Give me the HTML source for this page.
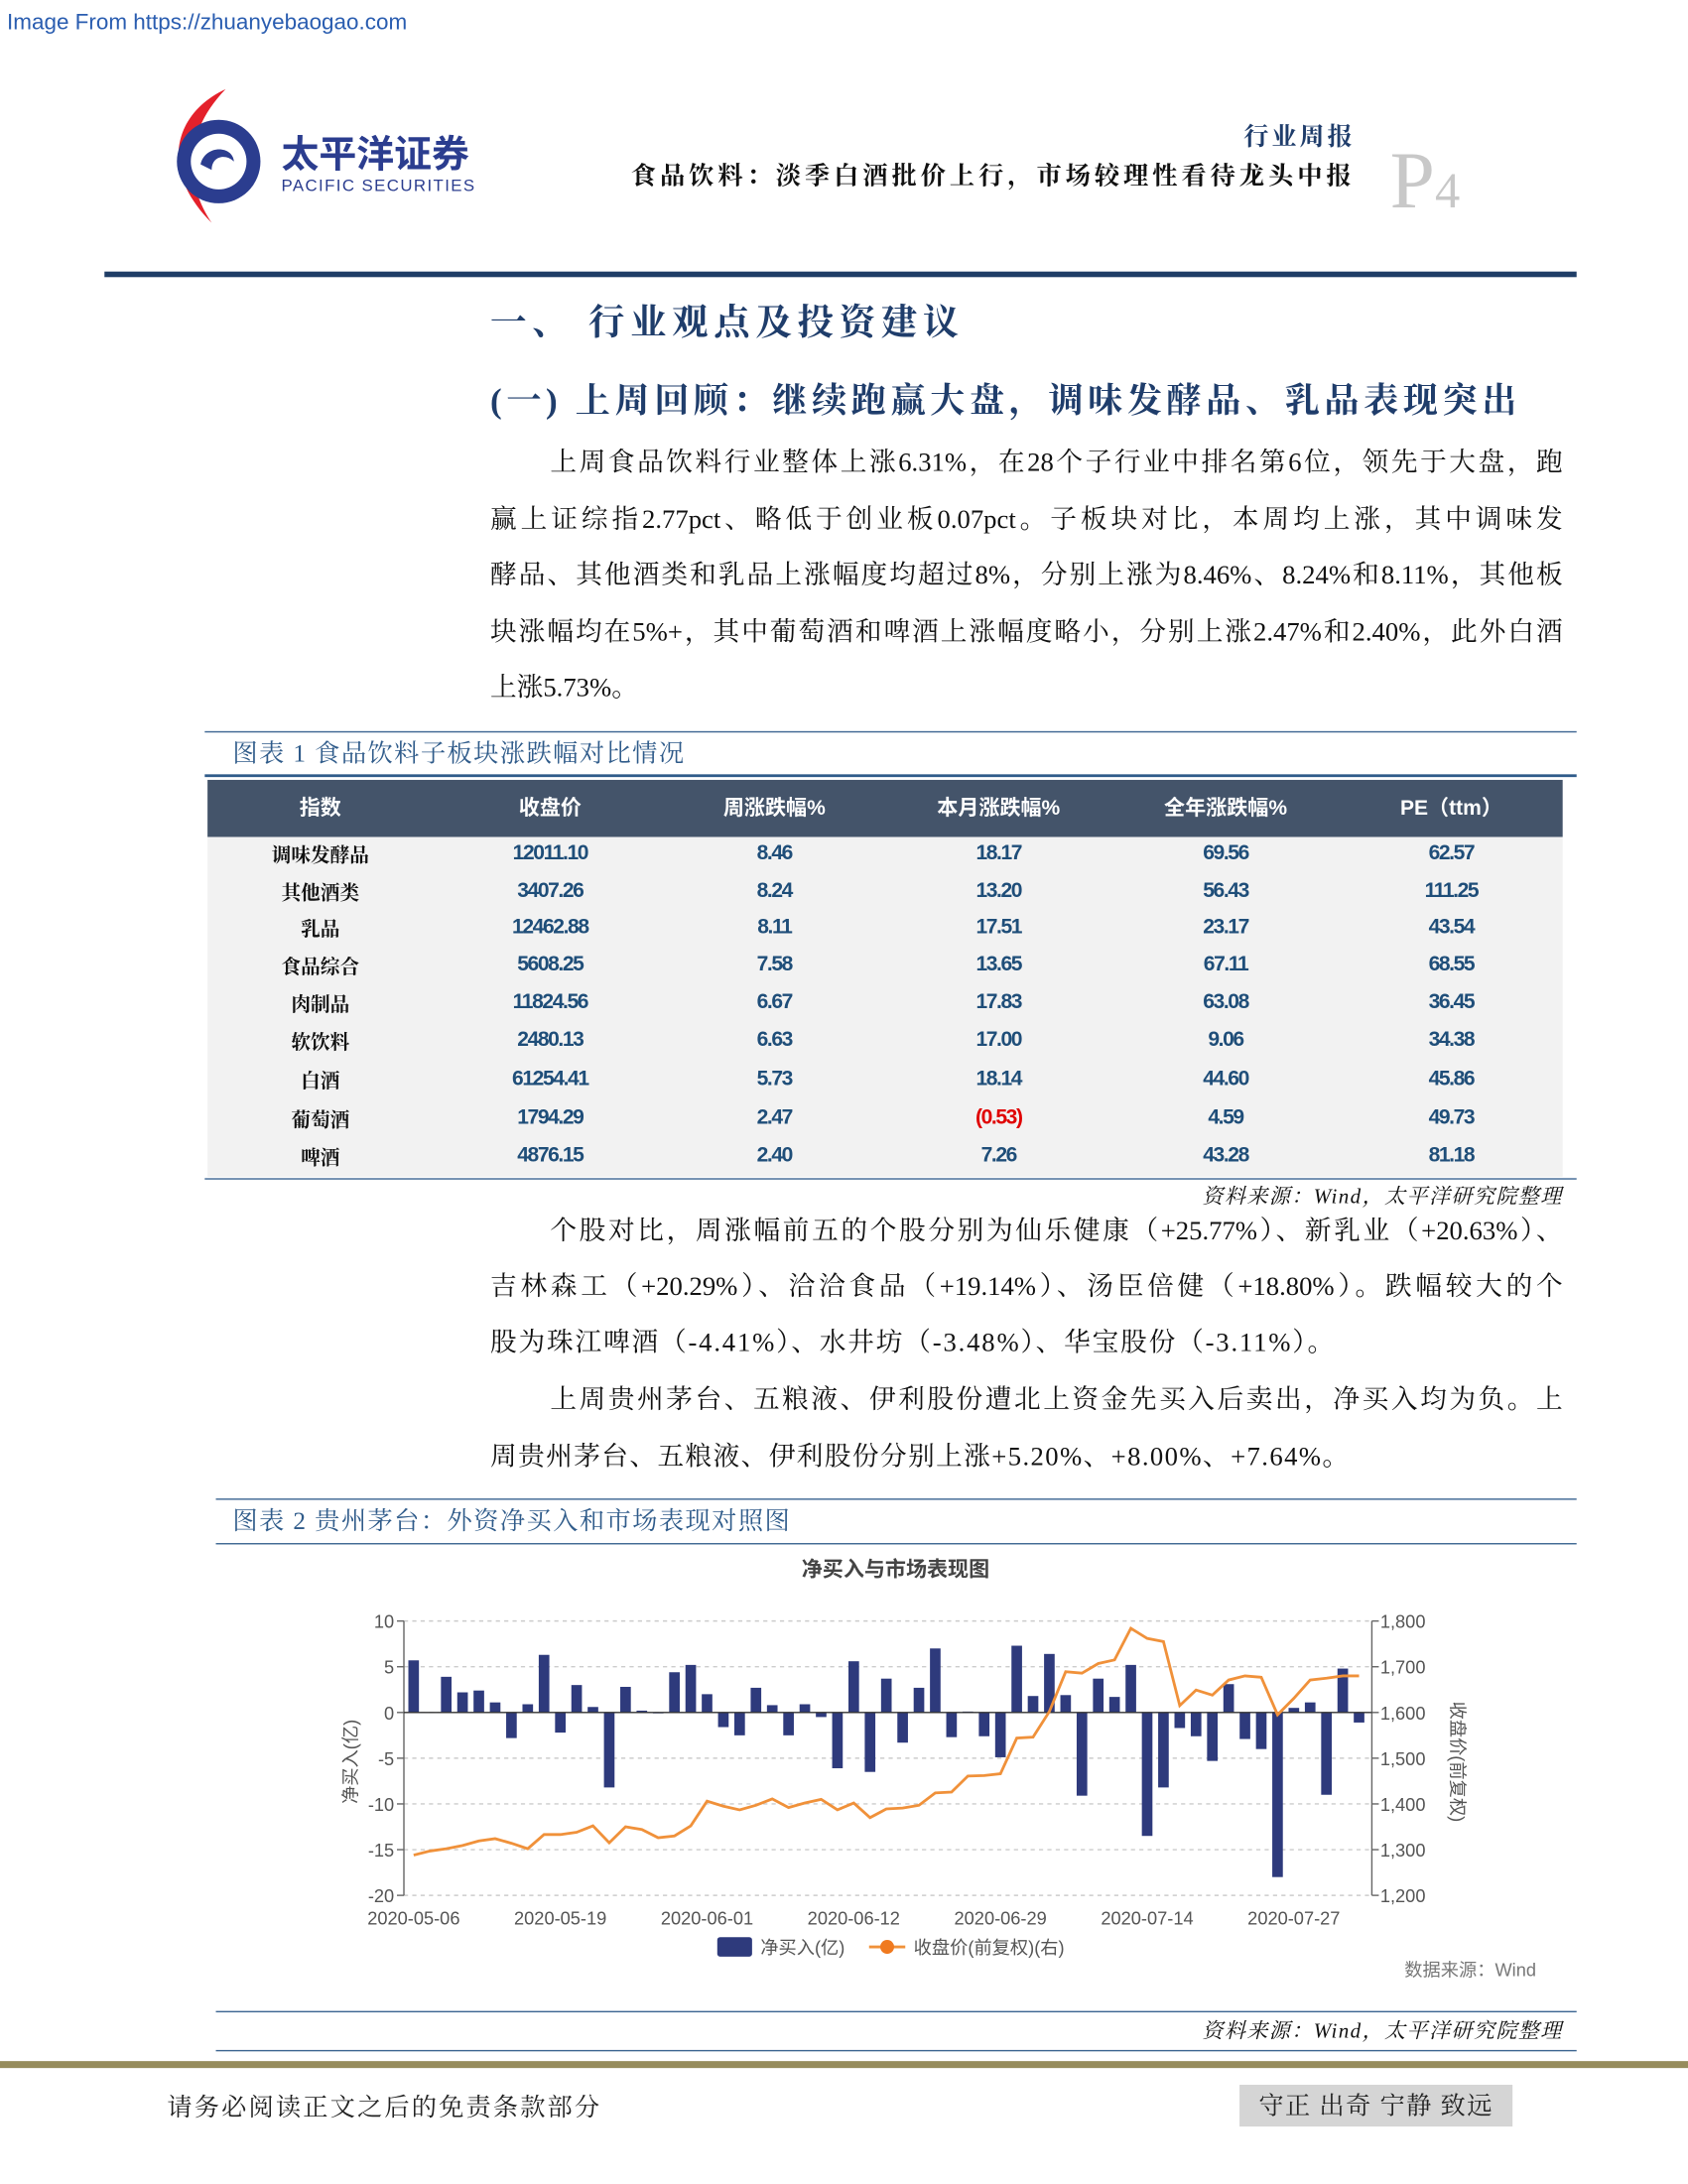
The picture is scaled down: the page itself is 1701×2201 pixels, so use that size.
<!DOCTYPE html>
<html><head><meta charset="utf-8">
<style>
html,body{margin:0;padding:0;background:#fff;width:1701px;height:2201px;overflow:hidden}
#pg{position:absolute;left:0;top:0;width:1212px;height:1568px;transform:scale(1.40347);transform-origin:0 0;font-family:"Liberation Serif","Noto Serif CJK SC",serif;color:#111}
.a{position:absolute;white-space:nowrap}
.ln{position:absolute;font-size:19px;line-height:24px;text-align:justify;text-align-last:justify;white-space:nowrap;color:#111}
.hl{position:absolute;height:1px;background:#3c6591}
.cap{position:absolute;font-size:18px;color:#2f5b8a;letter-spacing:1px}
.th{position:absolute;top:560px;height:41px;line-height:41px;color:#fff;font-size:15px;font-weight:bold;font-family:"Liberation Sans","Noto Sans CJK SC",sans-serif;text-align:center;width:150px}
.td{position:absolute;width:150px;text-align:center;font-size:15px;font-weight:bold;color:#1f4e79;font-family:"Liberation Sans Narrow","Liberation Sans",sans-serif;letter-spacing:-1px}
.tn{position:absolute;width:150px;text-align:center;font-size:14px;font-weight:bold;color:#111}
</style></head><body>
<div id="pg">
<div class="a" style="left:5px;top:8px;font-size:16px;color:#2a5db0;font-family:'Liberation Sans',sans-serif">Image From https://zhuanyebaogao.com</div>
<svg class="a" style="left:112px;top:60px" width="240" height="102">
<path d="M50 4 C15 20 0 60 40 100 C20 70 20 35 50 4Z" fill="#e4212b"/>
<circle cx="45" cy="56" r="30" fill="#2b3d8f"/>
<circle cx="45" cy="56" r="20" fill="#fff"/>
<path d="M32 58 C35 44 55 44 56 56 C50 50 40 52 40 62 Z" fill="#2b3d8f"/>
<text x="90" y="60" font-size="27" font-weight="bold" fill="#2b3d8f" font-family="'Noto Sans CJK SC',sans-serif">太平洋证券</text>
<text x="90" y="77" font-size="12" fill="#2b3d8f" font-family="'Liberation Sans',sans-serif" letter-spacing="1">PACIFIC SECURITIES</text>
</svg>
<div class="a" style="right:239px;top:84px;font-size:18px;color:#1f3d6b;font-weight:bold;letter-spacing:2px">行业周报</div>
<div class="a" style="right:239px;top:112px;font-size:18px;font-weight:bold;letter-spacing:2.8px">食品饮料：淡季白酒批价上行，市场较理性看待龙头中报</div>
<div class="a" style="left:998px;top:100px;font-size:58px;color:#c8c8c8;line-height:60px">P<span style="font-size:36px">4</span></div>
<div class="a" style="left:75px;top:195px;width:1057px;height:4px;background:#1f3d66"></div>
<div class="a" style="left:352px;top:211px;font-size:26px;font-weight:bold;color:#1f3d6b;letter-spacing:4px">一、 行业观点及投资建议</div>
<div class="a" style="left:352px;top:268px;font-size:25px;font-weight:bold;color:#1f3d6b;letter-spacing:3.3px">(一) 上周回顾：继续跑赢大盘，调味发酵品、乳品表现突出</div>

<div>
<div class="ln" style="left:395px;width:727px;top:321px">上周食品饮料行业整体上涨6.31%，在28个子行业中排名第6位，领先于大盘，跑</div>
<div class="ln" style="left:352px;width:770px;top:362px">赢上证综指2.77pct、略低于创业板0.07pct。子板块对比，本周均上涨，其中调味发</div>
<div class="ln" style="left:352px;width:770px;top:402px">酵品、其他酒类和乳品上涨幅度均超过8%，分别上涨为8.46%、8.24%和8.11%，其他板</div>
<div class="ln" style="left:352px;width:770px;top:443px">块涨幅均在5%+，其中葡萄酒和啤酒上涨幅度略小，分别上涨2.47%和2.40%，此外白酒</div>
<div class="ln" style="left:352px;top:483px;text-align-last:auto">上涨5.73%。</div>
</div>

<div class="hl" style="left:147px;top:525px;width:985px"></div>
<div class="cap" style="left:167px;top:527px">图表 1 食品饮料子板块涨跌幅对比情况</div>
<div class="a" style="left:147px;top:556px;width:985px;height:2px;background:#2f5b8a"></div>
<div class="a" style="left:149px;top:560px;width:973px;height:41px;background:#44546a"></div>
<div class="a" style="left:149px;top:601px;width:973px;height:244px;background:#f2f2f2"></div>
<div class="hl" style="left:147px;top:846px;width:985px"></div>
<div id="tbl"></div>
<div class="a" style="right:90px;top:848px;font-size:15px;font-style:italic;letter-spacing:1px">资料来源：Wind，太平洋研究院整理</div>

<div>
<div class="ln" style="left:395px;width:727px;top:873px">个股对比，周涨幅前五的个股分别为仙乐健康（+25.77%）、新乳业（+20.63%）、</div>
<div class="ln" style="left:352px;width:770px;top:913px">吉林森工（+20.29%）、洽洽食品（+19.14%）、汤臣倍健（+18.80%）。跌幅较大的个</div>
<div class="ln" style="left:352px;top:953px;text-align-last:auto;letter-spacing:1.3px">股为珠江啤酒（-4.41%）、水井坊（-3.48%）、华宝股份（-3.11%）。</div>
</div>
<div>
<div class="ln" style="left:395px;width:727px;top:994px">上周贵州茅台、五粮液、伊利股份遭北上资金先买入后卖出，净买入均为负。上</div>
<div class="ln" style="left:352px;top:1035px;text-align-last:auto;letter-spacing:1px">周贵州茅台、五粮液、伊利股份分别上涨+5.20%、+8.00%、+7.64%。</div>
</div>

<div class="hl" style="left:155px;top:1076px;width:977px"></div>
<div class="cap" style="left:167px;top:1078px">图表 2 贵州茅台：外资净买入和市场表现对照图</div>
<div class="hl" style="left:155px;top:1108px;width:977px"></div>

<svg id="chart" class="a" style="left:0;top:0" width="1212" height="1440"></svg>

<div class="hl" style="left:155px;top:1444px;width:977px"></div>
<div class="a" style="right:90px;top:1447px;font-size:15px;font-style:italic;letter-spacing:1px">资料来源：Wind，太平洋研究院整理</div>
<div class="hl" style="left:155px;top:1472px;width:977px"></div>
<div class="a" style="left:0;top:1480px;width:1212px;height:5px;background:#968c5c"></div>
<div class="a" style="left:120px;top:1499px;font-size:18px;color:#222;letter-spacing:1.5px">请务必阅读正文之后的免责条款部分</div>
<div class="a" style="left:890px;top:1497px;width:196px;height:30px;background:#d5d5d5;font-size:18px;line-height:30px;text-align:center;color:#222;letter-spacing:1px">守正 出奇 宁静 致远</div>
</div>

<script>
const headers=["指数","收盘价","周涨跌幅%","本月涨跌幅%","全年涨跌幅%","PE（ttm）"];
const sectors=["调味发酵品","其他酒类","乳品","食品综合","肉制品","软饮料","白酒","葡萄酒","啤酒"];
const closes=["12011.10","3407.26","12462.88","5608.25","11824.56","2480.13","61254.41","1794.29","4876.15"];
const weekChg=["8.46","8.24","8.11","7.58","6.67","6.63","5.73","2.47","2.40"];
const monthChg=["18.17","13.20","17.51","13.65","17.83","17.00","18.14","(0.53)","7.26"];
const yearChg=["69.56","56.43","23.17","67.11","63.08","9.06","44.60","4.59","43.28"];
const pe=["62.57","111.25","43.54","68.55","36.45","34.38","45.86","49.73","81.18"];
const colX=[230,395,556,717,880,1042];
const rowY=[614,641,667,694,721,748,776,804,831];
const tbl=document.getElementById('tbl');
headers.forEach((h,i)=>{const d=document.createElement('div');d.className='th';d.style.left=(colX[i]-75)+'px';d.textContent=h;


tbl.appendChild(d);});
const cols=[sectors,closes,weekChg,monthChg,yearChg,pe];
cols.forEach((c,ci)=>c.forEach((v,ri)=>{const d=document.createElement('div');d.className=ci==0?'tn':'td';
d.style.left=(colX[ci]-75)+'px';d.style.top=(rowY[ri]-10)+'px';d.textContent=v;
if(v.startsWith('('))d.style.color='#e00000';


tbl.appendChild(d);}));
</script>
<script>
const xLabels=["2020-05-06","2020-05-19","2020-06-01","2020-06-12","2020-06-29","2020-07-14","2020-07-27"];
const leftTicks=[10,5,0,-5,-10,-15,-20];
const rightTicks=[1800,1700,1600,1500,1400,1300,1200];
const netBuy=[5.7,0,3.9,2.2,2.4,1.1,-2.8,0.9,6.3,-2.2,3.0,0.6,-8.2,2.8,0.2,-0.1,4.4,5.2,2.0,-1.6,-2.5,2.7,0.8,-2.5,0.9,-0.5,-6.1,5.6,-6.5,3.7,-3.3,2.7,7.0,-2.7,0.1,-2.6,-4.9,7.3,1.8,6.4,1.9,-9.1,3.7,1.7,5.2,-13.5,-8.2,-1.7,-2.6,-5.3,3.1,-2.9,-4.0,-18.0,0.5,1.1,-9.0,4.8,-1.1];
const closePrice=[1288,1297,1302,1309,1319,1324,1314,1302,1333,1333,1338,1352,1315,1350,1344,1326,1330,1352,1406,1395,1387,1397,1411,1392,1402,1410,1387,1402,1370,1389,1391,1397,1424,1426,1461,1462,1466,1544,1546,1602,1689,1686,1707,1715,1784,1762,1755,1615,1649,1638,1671,1680,1677,1595,1631,1671,1675,1680,1680];
const X0=297,STEP=(929-297)/54,YT=1164,YB=1361;
const xs=i=>X0+i*STEP;
const yL=v=>YT+(10-v)*(YB-YT)/30;
const yR=v=>YT+(1800-v)*(YB-YT)/600;
const svg=document.getElementById('chart');const NS='http://www.w3.org/2000/svg';
function mk(t,a,txt){const e=document.createElementNS(NS,t);for(const k in a)e.setAttribute(k,a[k]);if(txt!=null)e.textContent=txt;svg.appendChild(e);return e;}
const F="'Liberation Sans','Noto Sans CJK SC',sans-serif";
let e;
e=mk('text',{x:643,y:1132,'text-anchor':'middle','font-size':15,'font-weight':'bold',fill:'#444','font-family':F},'净买入与市场表现图');


leftTicks.forEach(v=>{
e=mk('line',{x1:290,x2:985,y1:yL(v),y2:yL(v),stroke:'#ccc','stroke-dasharray':'3,3'});


e=mk('text',{x:283,y:yL(v)+5,'text-anchor':'end','font-size':13,fill:'#555','font-family':F},String(v));


mk('line',{x1:285,x2:290,y1:yL(v),y2:yL(v),stroke:'#666'});
});
rightTicks.forEach(v=>{
e=mk('text',{x:991,y:yR(v)+5,'font-size':13,fill:'#555','font-family':F},v.toLocaleString('en-US'));


mk('line',{x1:985,x2:990,y1:yR(v),y2:yR(v),stroke:'#666'});
});
mk('line',{x1:290,x2:290,y1:YT,y2:YB,stroke:'#666'});
mk('line',{x1:985,x2:985,y1:YT,y2:YB,stroke:'#666'});
xLabels.forEach((l,k)=>{
e=mk('text',{x:xs(k*9),y:1382,'text-anchor':'middle','font-size':13,fill:'#555','font-family':F},l);


});
e=mk('text',{x:0,y:0,'font-size':13,fill:'#555','font-family':F,transform:'translate(256,1265) rotate(-90)','text-anchor':'middle'},'净买入(亿)');


e=mk('text',{x:0,y:0,'font-size':13,fill:'#555','font-family':F,transform:'translate(1042,1265) rotate(90)','text-anchor':'middle'},'收盘价(前复权)');


netBuy.forEach((v,i)=>{
const y0=yL(0),y1=yL(v);
e=mk('rect',{x:xs(i)-3.8,y:Math.min(y0,y1),width:7.6,height:Math.max(Math.abs(y1-y0),0.5),fill:'#2e3a7c'});


});
mk('line',{x1:290,x2:985,y1:yL(0),y2:yL(0),stroke:'#333'});
e=mk('polyline',{points:closePrice.map((v,i)=>xs(i)+','+yR(v)).join(' '),fill:'none',stroke:'#f0913a','stroke-width':2});


e=mk('rect',{x:515,y:1391,width:25,height:14,rx:2,fill:'#2e3a7c'});


mk('text',{x:546,y:1403,'font-size':13,fill:'#555','font-family':F},'净买入(亿)');
mk('line',{x1:624,x2:650,y1:1398,y2:1398,stroke:'#f0913a','stroke-width':2});
e=mk('circle',{cx:637,cy:1398,r:5,fill:'#f07a20'});


mk('text',{x:656,y:1403,'font-size':13,fill:'#555','font-family':F},'收盘价(前复权)(右)');
e=mk('text',{x:1103,y:1419,'text-anchor':'end','font-size':13,fill:'#777','font-family':F},'数据来源：Wind');


</script>
</body></html>
